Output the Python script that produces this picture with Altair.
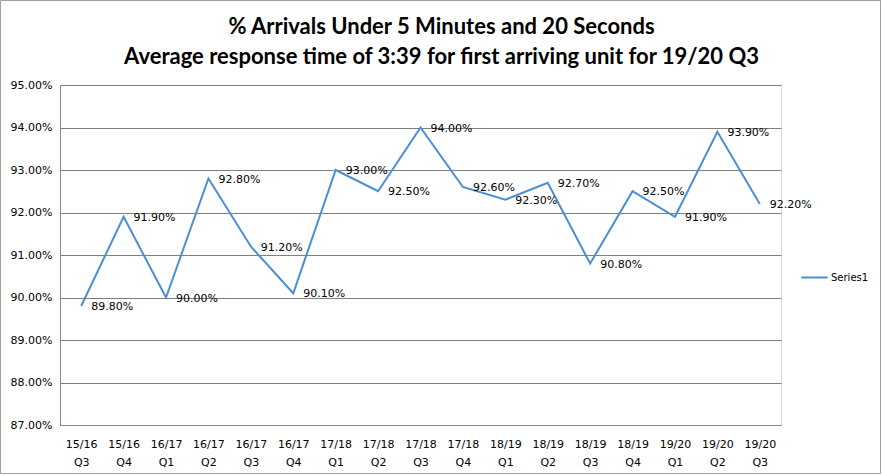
import altair as alt
import pandas as pd

quarters = ["15/16 Q3", "15/16 Q4", "16/17 Q1", "16/17 Q2", "16/17 Q3", "16/17 Q4",
            "17/18 Q1", "17/18 Q2", "17/18 Q3", "17/18 Q4", "18/19 Q1", "18/19 Q2",
            "18/19 Q3", "18/19 Q4", "19/20 Q1", "19/20 Q2", "19/20 Q3"]
values = [89.8, 91.9, 90.0, 92.8, 91.2, 90.1, 93.0, 92.5, 94.0, 92.6, 92.3, 92.7,
          90.8, 92.5, 91.9, 93.9, 92.2]
series = ["Series1"] * len(quarters)

df = pd.DataFrame({"quarter": quarters, "value": values, "series": series})

LINE = "#4A8FD6"
FONT = "DejaVu Sans"

x = alt.X("quarter:N", sort=quarters, title=None,
          scale=alt.Scale(paddingInner=0, paddingOuter=0),
          axis=alt.Axis(labelAngle=0, labelExpr="split(datum.label, ' ')",
                        labelFont=FONT, labelFontSize=11, labelColor="#000000",
                        labelPadding=13, labelLineHeight=18, ticks=False,
                        domainColor="#888888"))
y = alt.Y("value:Q", title=None,
          scale=alt.Scale(domain=[87, 95], nice=False, zero=False),
          axis=alt.Axis(values=[87, 88, 89, 90, 91, 92, 93, 94, 95],
                        labelExpr="format(datum.value, '.2f') + '%'",
                        labelFont=FONT, labelFontSize=11, labelColor="#000000",
                        labelPadding=8, ticks=False, domainColor="#888888",
                        gridColor="#7f7f7f", gridWidth=1))

base = alt.Chart(df)

line = base.mark_line(strokeWidth=2).encode(
    x=x, y=y,
    color=alt.Color("series:N", scale=alt.Scale(range=[LINE]),
                    legend=alt.Legend(title=None, orient="none", legendX=740, legendY=178,
                                      symbolType="stroke", symbolStrokeWidth=2,
                                      symbolSize=700, labelFont=FONT, labelFontSize=10,
                                      labelColor="#000000", labelOffset=2)),
)

labels = base.transform_calculate(
    lbl="format(datum.value, '.2f') + '%'"
).mark_text(align="left", baseline="middle", dx=10, dy=1, font=FONT, fontSize=11,
            color="#000000").encode(
    x=alt.X("quarter:N", sort=quarters), y="value:Q", text="lbl:N")

border = alt.Chart(pd.DataFrame({"a": [0]})).mark_rect(
    fill="transparent", stroke="#a0a0a0", strokeWidth=1
).encode(x=alt.value(-59.5), x2=alt.value(820.5), y=alt.value(-84.5), y2=alt.value(388.5))

chart = alt.layer(border, line, labels).properties(
    width=721, height=340,
    autosize=alt.AutoSizeParams(type="none"),
    padding={"left": 60, "top": 85, "right": 101, "bottom": 50},
    title=alt.Title(
        ["% Arrivals Under 5 Minutes and 20 Seconds",
         "Average response time of 3:39 for first arriving unit for 19/20 Q3"],
        font="Lato", fontSize=22, fontWeight="bold", color="#000000",
        lineHeight=30, anchor="middle", dx=21, offset=-69),
).configure_view(stroke=None).configure(background="white")

chart.save("out.html", embed_options={"renderer": "svg", "actions": False})
